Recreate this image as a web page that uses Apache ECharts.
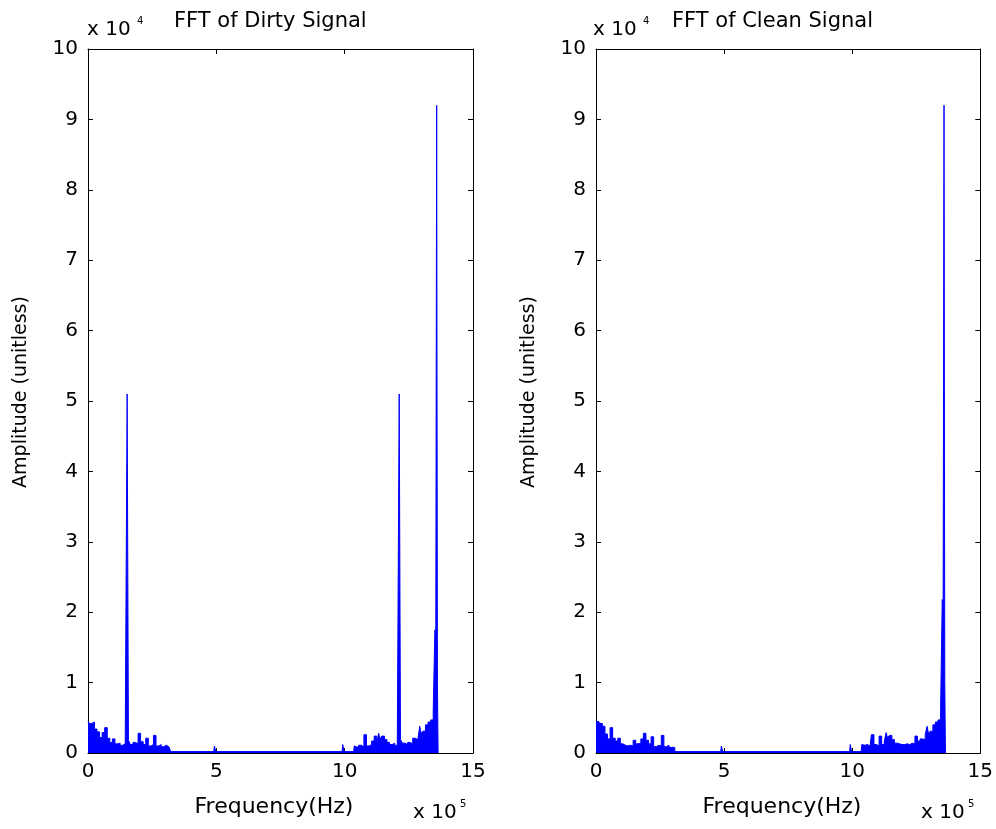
<!DOCTYPE html>
<html><head><meta charset="utf-8">
<script src="https://cdn.jsdelivr.net/npm/echarts@6/dist/echarts.min.js"></script>
<style>html,body{margin:0;padding:0;background:#fff}#c{width:996px;height:829px}</style>
</head><body><div id="c"></div>
<script>
// Frequencies in units of 1e5 Hz, amplitudes in units of 1e4
const dirtyFreq = [0.0,0.1,0.2,0.3,0.4,0.5,0.6,0.7,0.8,0.9,1.0,1.1,1.2,1.3,1.4,1.5,1.55,1.6,1.7,1.8,1.9,2.0,2.1,2.2,2.3,2.4,2.5,2.6,2.7,2.8,2.9,3.0,3.1,3.2,3.25,
  4.9,4.95,5.0,9.9,9.95,10.0,10.35,
  10.4,10.5,10.6,10.7,10.8,10.9,11.0,11.1,11.2,11.3,11.35,11.4,11.5,11.6,11.7,11.8,11.9,12.0,12.1,12.15,12.2,12.3,12.4,12.5,12.6,12.7,12.8,12.9,12.95,13.0,13.1,13.2,13.3,13.4,13.5,13.53,13.57,13.6,13.63,13.65];
const dirtyAmp = [0.45,0.42,0.44,0.34,0.30,0.22,0.29,0.36,0.21,0.15,0.20,0.13,0.14,0.11,0.13,0.12,5.1,0.18,0.12,0.15,0.13,0.28,0.16,0.12,0.21,0.10,0.12,0.25,0.10,0.12,0.09,0.11,0.09,0.08,0.02,
  0.02,0.10,0.02,0.02,0.12,0.02,0.02,
  0.10,0.08,0.11,0.09,0.26,0.10,0.12,0.17,0.24,0.14,0.28,0.20,0.24,0.19,0.15,0.12,0.14,0.11,0.12,5.1,0.19,0.14,0.12,0.15,0.13,0.21,0.19,0.17,0.38,0.28,0.31,0.40,0.44,0.47,0.60,1.75,1.70,9.2,1.0,0];
const cleanFreq = [0.0,0.1,0.2,0.3,0.4,0.5,0.6,0.7,0.8,0.9,1.0,1.1,1.2,1.3,1.4,1.5,1.6,1.7,1.8,1.9,2.0,2.1,2.2,2.3,2.4,2.5,2.6,2.7,2.8,2.9,3.0,3.05,3.1,
  4.87,4.92,4.97,9.9,9.95,10.0,10.35,
  10.4,10.5,10.6,10.7,10.8,10.9,11.0,11.1,11.2,11.3,11.35,11.4,11.5,11.6,11.7,11.8,11.9,12.0,12.1,12.2,12.3,12.4,12.5,12.6,12.7,12.8,12.9,12.95,13.0,13.1,13.2,13.3,13.4,13.5,13.53,13.57,13.6,13.63,13.65];
const cleanAmp = [0.44,0.45,0.42,0.38,0.27,0.20,0.36,0.21,0.17,0.21,0.13,0.11,0.10,0.11,0.10,0.18,0.13,0.14,0.20,0.28,0.18,0.13,0.23,0.09,0.11,0.10,0.25,0.09,0.11,0.08,0.09,0.08,0.02,
  0.02,0.10,0.02,0.02,0.12,0.02,0.02,
  0.12,0.11,0.12,0.10,0.26,0.12,0.10,0.24,0.12,0.16,0.29,0.22,0.25,0.19,0.14,0.13,0.12,0.12,0.13,0.12,0.14,0.13,0.24,0.17,0.20,0.19,0.26,0.38,0.28,0.31,0.40,0.44,0.47,0.60,2.18,2.10,9.2,1.0,0];
const xTicks = [0,5,10,15];
const yTicks = [0,1,2,3,4,5,6,7,8,9,10];
const titles = ['FFT of Dirty Signal','FFT of Clean Signal'];
const xName = 'Frequency(Hz)';
const yName = 'Amplitude (unitless)';

const FONT = "'DejaVu Sans', Verdana, sans-serif";
const chart = echarts.init(document.getElementById('c'));
const grids = [{left:88, top:49, width:385, height:704},{left:596, top:49, width:386, height:704}];
const xAxes = [], yAxes = [], series = [];
const datasets = [[dirtyFreq,dirtyAmp],[cleanFreq,cleanAmp]];
grids.forEach((g,i)=>{
  const common = {type:'value', gridIndex:i, splitLine:{show:false},
    axisLine:{show:true, onZero:false, lineStyle:{color:'#000', width:1}},
    axisTick:{show:true, inside:true, length:5, lineStyle:{color:'#000'}}};
  xAxes.push(Object.assign({}, common, {position:'bottom', min:xTicks[0], max:xTicks[xTicks.length-1], interval:5,
    axisLabel:{color:'#000', fontSize:20, fontFamily:FONT, margin:9}}));
  xAxes.push(Object.assign({}, common, {position:'top', min:0, max:15, interval:5, axisLabel:{show:false}}));
  yAxes.push(Object.assign({}, common, {position:'left', min:yTicks[0], max:yTicks[yTicks.length-1], interval:1,
    axisLabel:{color:'#000', fontSize:20, fontFamily:FONT, margin:10}}));
  yAxes.push(Object.assign({}, common, {position:'right', min:0, max:10, interval:1, axisLabel:{show:false}}));
  const [fx, fy] = datasets[i];
  series.push({type:'line', xAxisIndex:i*2, yAxisIndex:i*2, showSymbol:false, animation:false, step:'middle',
    data: fx.map((f,k)=>[f, fy[k]]),
    lineStyle:{color:'#0000ff', width:1}, areaStyle:{color:'#0000ff', opacity:1}, itemStyle:{color:'#0000ff'}});
});
const graphic = [];
[[87,174,413,274,21],[593,672,921,782,529]].forEach((p,i)=>{
  graphic.push({type:'text', x:p[0], y:29.5, style:{text:'x 10', font:'20px '+FONT, fill:'#000', textVerticalAlign:'middle'}});
  graphic.push({type:'text', x:p[0]+50, y:21.5, style:{text:'4', font:'10px '+FONT, fill:'#000', textVerticalAlign:'middle'}});
  graphic.push({type:'text', x:p[1], y:22, style:{text:titles[i], font:'21px '+FONT, fill:'#000', textVerticalAlign:'middle'}});
  graphic.push({type:'text', x:p[2], y:812.5, style:{text:'x 10', font:'20px '+FONT, fill:'#000', textVerticalAlign:'middle'}});
  graphic.push({type:'text', x:p[2]+47, y:804.5, style:{text:'5', font:'10px '+FONT, fill:'#000', textVerticalAlign:'middle'}});
  graphic.push({type:'text', x:p[3], y:807, style:{text:xName, font:'22px '+FONT, fill:'#000', textAlign:'center', textVerticalAlign:'middle'}});
  graphic.push({type:'text', x:p[4], y:392, rotation:Math.PI/2, style:{text:yName, font:'19px '+FONT, fill:'#000', textAlign:'center', textVerticalAlign:'middle'}});
});
chart.setOption({animation:false, grid:grids, xAxis:xAxes, yAxis:yAxes, series:series, graphic:graphic});
</script></body></html>
